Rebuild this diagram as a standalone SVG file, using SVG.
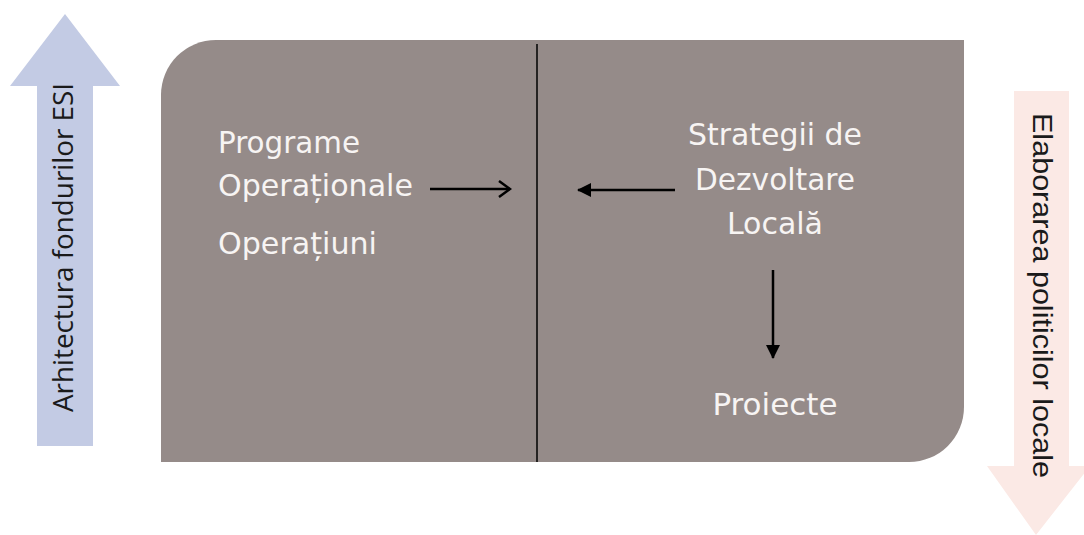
<svg xmlns="http://www.w3.org/2000/svg" width="1084" height="535" viewBox="0 0 1084 535">
<style>
.lbl{font-family:"DejaVu Sans Condensed","Open Sans",sans-serif;font-size:31px;fill:#f7f4f3}
.side{font-size:28px;fill:#1a1a1a}
.conn{stroke:#000;stroke-width:2.5;fill:none}
</style>
<defs>
<marker id="open" markerWidth="14" markerHeight="18" refX="12" refY="9" orient="auto" markerUnits="userSpaceOnUse">
<path d="M1,1 L12,9 L1,17" fill="none" stroke="#000" stroke-width="2.5"/>
</marker>
<marker id="solid" markerWidth="14" markerHeight="14" refX="13" refY="7" orient="auto" markerUnits="userSpaceOnUse">
<path d="M0,0 L14,7 L0,14 Z" fill="#000"/>
</marker>
</defs>
<rect width="1084" height="535" fill="#fff"/>
<g id="arrow-left">
<polygon points="37,446 37,86 10,86 65,14 120,86 93,86 93,446" fill="#c3cbe4"/>
<text class="side" transform="translate(73,412) rotate(-90)" font-family="Open Sans, sans-serif" textLength="329" lengthAdjust="spacingAndGlyphs">Arhitectura fondurilor ESI</text>
</g>
<g id="arrow-right">
<polygon points="1014,91 1069,91 1069,466 1090,466 1036,535 987,466 1014,466" fill="#fbe9e5"/>
<text class="side" transform="translate(1033,113) rotate(90)" font-family="Liberation Sans, Arial, sans-serif" textLength="365" lengthAdjust="spacingAndGlyphs">Elaborarea politicilor locale</text>
</g>
<g id="panel">
<path d="M216,40 H964 V407 A55,55 0 0 1 909,462 H161 V95 A55,55 0 0 1 216,40 Z" fill="#958b89"/>
<line x1="537" y1="44" x2="537" y2="462" stroke="#000" stroke-width="1.5"/>
</g>
<g id="node-po">
<text class="lbl" x="218" y="153" textLength="142" lengthAdjust="spacingAndGlyphs">Programe</text>
<text class="lbl" x="218" y="196" textLength="195" lengthAdjust="spacingAndGlyphs">Operaționale</text>
</g>
<g id="node-op">
<text class="lbl" x="218" y="254" textLength="159" lengthAdjust="spacingAndGlyphs">Operațiuni</text>
</g>
<g id="node-sdl">
<text class="lbl" x="775" y="145" text-anchor="middle" textLength="174" lengthAdjust="spacingAndGlyphs">Strategii de</text>
<text class="lbl" x="775" y="190" text-anchor="middle" textLength="160" lengthAdjust="spacingAndGlyphs">Dezvoltare</text>
<text class="lbl" x="775" y="234" text-anchor="middle" textLength="96" lengthAdjust="spacingAndGlyphs">Locală</text>
</g>
<g id="node-proiecte">
<text class="lbl" x="775" y="415" text-anchor="middle" textLength="125" lengthAdjust="spacingAndGlyphs">Proiecte</text>
</g>
<g id="connectors">
<line class="conn" x1="430" y1="189" x2="510" y2="189" marker-end="url(#open)"/>
<line class="conn" x1="675" y1="190" x2="578" y2="190" marker-end="url(#solid)"/>
<line class="conn" x1="773" y1="270" x2="773" y2="358" marker-end="url(#solid)"/>
</g>
</svg>
